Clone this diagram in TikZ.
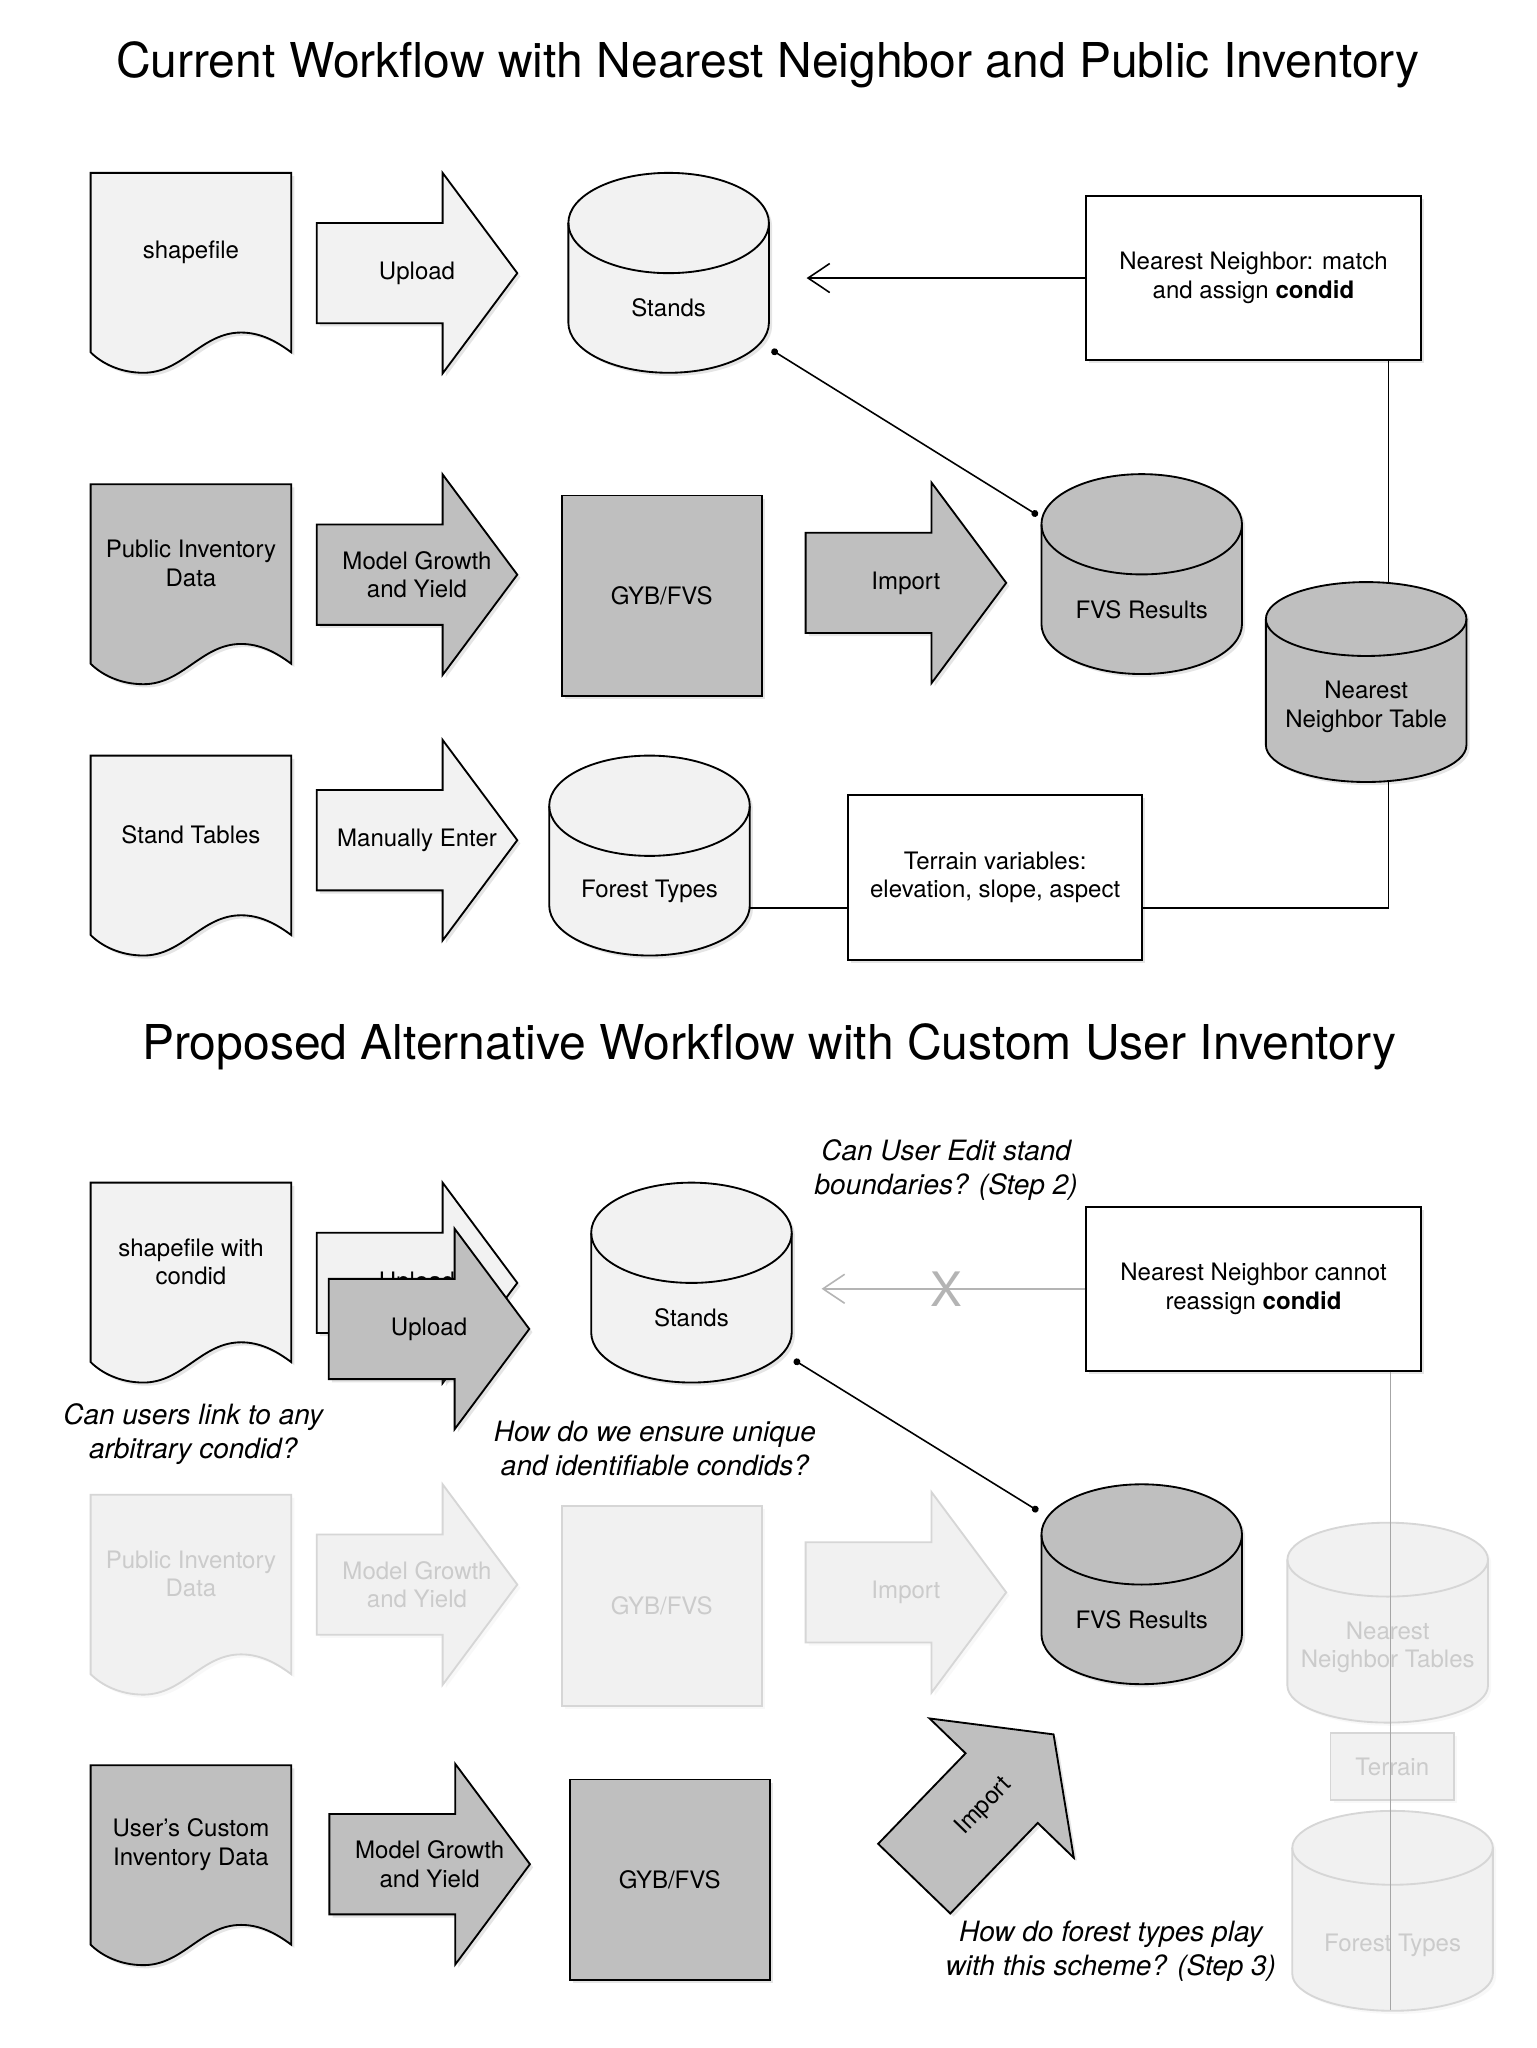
\documentclass[tikz,border=0pt]{standalone}
\usepackage{fontspec}
\setmainfont{TeX Gyre Heros}
\usetikzlibrary{arrows.meta,shadows}
\definecolor{lightfill}{HTML}{F2F2F2}
\definecolor{grayfill}{HTML}{BFBFBF}
\definecolor{fadefill}{HTML}{F1F1F1}
\definecolor{fadedraw}{HTML}{D6D6D6}
\definecolor{fadetext}{HTML}{CBCBCB}
\definecolor{ghostline}{HTML}{B4B4B4}
\definecolor{vline}{HTML}{A6A6A6}
\tikzset{
 sh/.style={drop shadow={shadow xshift=1.2pt,shadow yshift=-1.2pt,opacity=0.2}},
 lightshape/.style={draw=black,line width=0.7pt,fill=lightfill,sh},
 lightshape edge/.style={draw=black,line width=0.7pt},
 grayshape/.style={draw=black,line width=0.7pt,fill=grayfill,sh},
 grayshape edge/.style={draw=black,line width=0.7pt},
 fadeshape/.style={draw=fadedraw,line width=0.7pt,fill=fadefill,drop shadow={shadow xshift=1.2pt,shadow yshift=-1.2pt,opacity=0.05}},
 fadeshape edge/.style={draw=fadedraw,line width=0.7pt},
 lbl/.style={font=\fontsize{9.1}{10.85}\selectfont,align=center,inner sep=0pt,text=black},
 fadelbl/.style={lbl,text=fadetext},
 qlbl/.style={font=\fontsize{10.6}{12.8}\selectfont\itshape,align=center,inner sep=0pt},
 ttl/.style={font=\fontsize{18.2}{22}\selectfont,inner sep=0pt},
 tbox/.style={draw=black,line width=0.7pt,fill=white,sh,minimum width=126.7pt,minimum height=62pt,inner sep=0pt,lbl},
 conn/.style={draw=black,line width=0.6pt},
 dotconn/.style={conn,{Circle[length=2.6pt]}-{Circle[length=2.6pt]}},
 openarrow/.style={-{Straight Barb[length=8.2pt,width=11pt]}},
}
% document shape: #1 shape style, #2 text style, #3 x, #4 y, #5 name, #6 text
\newcommand{\mkdoc}[6]{%
\begin{scope}[shift={(#3,#4)}]
\path[#1] (0,0) -- (152,0) -- (152,136) .. controls (140,127) and (128,121) .. (114,121) .. controls (84,121) and (70,151.5) .. (40,151.5) .. controls (22,151.5) and (8,144) .. (0,136) -- cycle;
\node[#2] (#5) at (76,60) {#6};
\end{scope}}
% block arrow: #1 shape style, #2 text style, #3 x, #4 y, #5 name, #6 text
\newcommand{\mkarrow}[6]{%
\begin{scope}[shift={(#3,#4)}]
\path[#1] (0,38) -- (95.4,38) -- (95.4,0) -- (152,76) -- (95.4,152) -- (95.4,114) -- (0,114) -- cycle;
\node[#2] (#5) at (76,76) {#6};
\end{scope}}
% cylinder: #1 shape style, #2 text style, #3 x, #4 y, #5 ry, #6 text y, #7 name, #8 text
\newcommand{\mkcyl}[8]{%
\begin{scope}[shift={(#3,#4)}]
\path[#1] (0,#5) -- (0,151.5-#5) arc[start angle=180,end angle=0,x radius=76,y radius=#5] -- (152,#5) arc[start angle=0,end angle=-180,x radius=76,y radius=#5] -- cycle;
\draw[#1 edge] (0,#5) arc[start angle=180,end angle=0,x radius=76,y radius=#5];
\node[#2] (#7) at (76,#6) {#8};
\end{scope}}

\begin{document}
\begin{tikzpicture}[x=0.5pt,y=-0.5pt]
\fill[white] (0,0) rectangle (1164,1552);
\useasboundingbox (0,0) rectangle (1164,1552);

% ---------------- upper section ----------------
\node[ttl] (title1) at (582,49.4) {Current Workflow with Nearest Neighbor and Public Inventory};

\mkdoc{lightshape}{lbl}{68.7}{131}{shp}{shapefile}
\mkarrow{lightshape}{lbl}{240}{131}{upl}{Upload}
\mkcyl{lightshape}{lbl}{430.7}{131}{38}{102.5}{stands}{Stands}
\node[tbox] (nnbox) at (949.9,210.7) {Nearest Neighbor: match\\and assign \textbf{condid}};

\mkdoc{grayshape}{lbl}{68.7}{367}{pid}{Public Inventory\\Data}
\mkarrow{grayshape}{lbl}{240}{359.5}{mgy}{Model Growth\\and Yield}
\node[grayshape,lbl,minimum size=75.8pt] (gyb) at (501.5,451.35) {GYB/FVS};
\mkarrow{grayshape}{lbl}{610.5}{365.7}{imp}{Import}
\mkcyl{grayshape}{lbl}{789.2}{359.3}{38}{102.5}{fvs}{FVS Results}
\mkcyl{grayshape}{lbl}{959.3}{441.1}{28}{94.6}{nnt}{Nearest\\Neighbor Table}

\mkdoc{lightshape}{lbl}{68.7}{572.6}{stt}{Stand Tables}
\mkarrow{lightshape}{lbl}{240}{560.7}{man}{Manually Enter}
\mkcyl{lightshape}{lbl}{416.2}{572.6}{38}{102.5}{fty}{Forest Types}
\node[tbox,minimum width=111.45pt,minimum height=62.25pt] (ter) at (754.15,664.95) {Terrain variables:\\elevation, slope, aspect};

% connectors (upper)
\coordinate (stArrowEnd) at (611.3,210.7);
\draw[conn,openarrow] (nnbox.west) -- (stArrowEnd);
\coordinate (stDot) at (584.8,265.2);
\coordinate (fvsDot) at (786.4,390.5);
\draw[dotconn] (stDot) -- (fvsDot);
\coordinate (nntTop) at (1052.1,441.8);
\coordinate (nntBot) at (1052.1,591.8);
\coordinate (corner) at (1052.1,688.1);
\coordinate (ftyR) at (568.4,688.1);
\draw[conn] (nnbox.south -| nntTop) -- (nntTop);
\draw[conn] (nntBot) -- (corner) -- (ter.east |- corner);
\draw[conn] (ftyR) -- (ter.west |- ftyR);

% ---------------- lower section ----------------
\node[ttl] (title2) at (583,793.3) {Proposed Alternative Workflow with Custom User Inventory};

\mkdoc{lightshape}{lbl}{68.7}{896.2}{shp2}{shapefile with\\condid}
\mkarrow{lightshape}{lbl}{240}{896.2}{uplB}{Upload}
\mkarrow{grayshape}{lbl}{249.1}{931.1}{uplF}{Upload}
\mkcyl{lightshape}{lbl}{448}{896.2}{38}{102.6}{stands2}{Stands}
\node[tbox] (nnbox2) at (949.9,976.65) {Nearest Neighbor cannot\\reassign \textbf{condid}};

\node[qlbl] (q1) at (717,886.7) {Can User Edit stand\\boundaries? (Step 2)};
\node[qlbl] (q2) at (146.4,1086.8) {Can users link to any\\arbitrary condid?};
\node[qlbl] (q3) at (496.3,1097.6) {How do we ensure unique\\and identifiable condids?};

\mkdoc{fadeshape}{fadelbl}{68.7}{1132.7}{pidF}{Public Inventory\\Data}
\mkarrow{fadeshape}{fadelbl}{240}{1124.8}{mgyF}{Model Growth\\and Yield}
\node[fadeshape,fadelbl,minimum size=75.8pt] (gybF) at (501.5,1216.9) {GYB/FVS};
\mkarrow{fadeshape}{fadelbl}{610.5}{1130.7}{impF}{Import}
\mkcyl{grayshape}{lbl}{789.2}{1124.8}{38}{102.5}{fvs2}{FVS Results}
\mkcyl{fadeshape}{fadelbl}{975.6}{1153.9}{28}{94.6}{nntF}{Nearest\\Neighbor Tables}
\node[fadeshape,fadelbl,minimum width=46.8pt,minimum height=25.2pt] (terF) at (1055.1,1338.7) {Terrain};
\mkcyl{fadeshape}{fadelbl}{979.3}{1372.3}{28}{101.7}{ftyF}{Forest Types}

\mkdoc{grayshape}{lbl}{68.7}{1337.7}{ucid}{User's Custom\\Inventory Data}
\mkarrow{grayshape}{lbl}{249.6}{1336.7}{mgy2}{Model Growth\\and Yield}
\node[grayshape,lbl,minimum size=75.8pt] (gyb2) at (507.5,1424.35) {GYB/FVS};
\begin{scope}[shift={(745.6,1369)},rotate=46,shift={(-76,-76)}]
\mkarrow{grayshape}{lbl,transform shape}{0}{0}{imp2}{Import}
\end{scope}
\node[qlbl] (q4) at (841.8,1478.7) {How do forest types play\\with this scheme? (Step 3)};

% connectors (lower)
\coordinate (stArrowEnd2) at (622.6,976.65);
\draw[draw=ghostline,line width=0.6pt,openarrow] (nnbox2.west) -- (stArrowEnd2);
\node[text=ghostline,font=\fontsize{18}{18}\selectfont,inner sep=0pt] (xmark) at (717,977) {X};
\coordinate (st2Dot) at (601.7,1030.6);
\coordinate (fvs2Dot) at (786.7,1145);
\draw[dotconn] (st2Dot) -- (fvs2Dot);
\coordinate (vEnd) at (1053.6,1523);
\draw[draw=vline,line width=0.6pt] (nnbox2.south -| vEnd) -- (vEnd);
\end{tikzpicture}
\end{document}
